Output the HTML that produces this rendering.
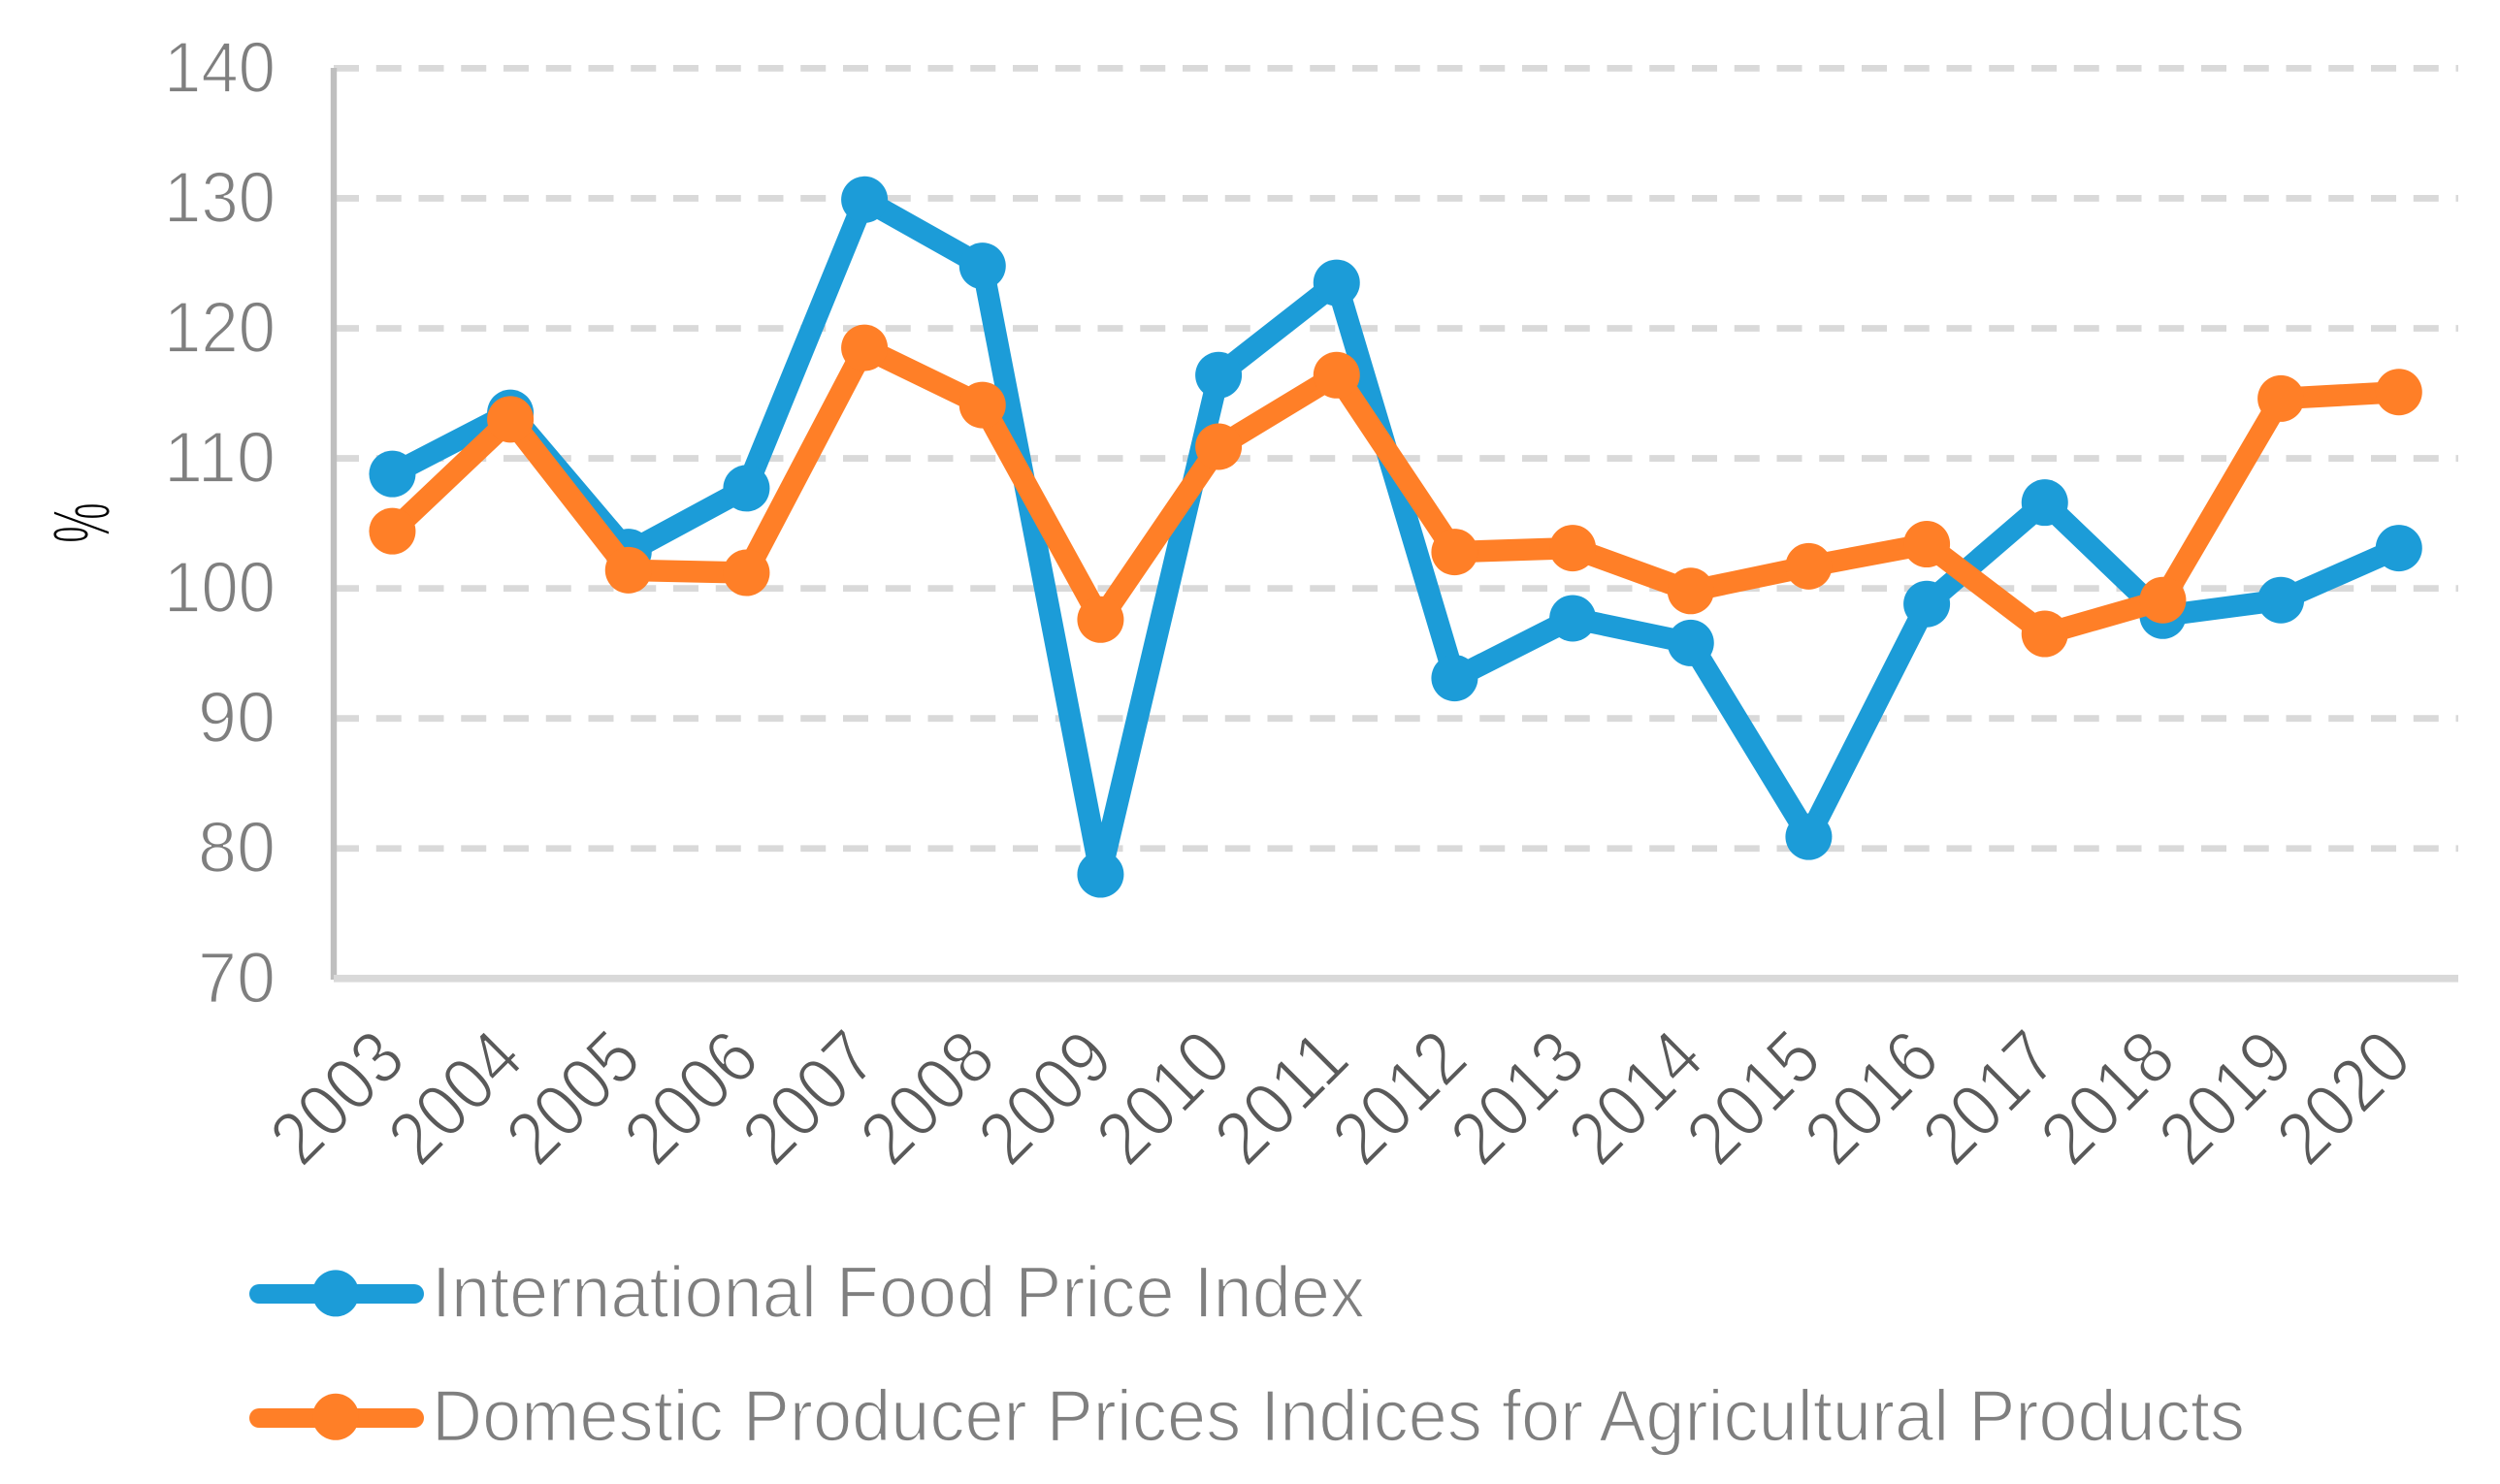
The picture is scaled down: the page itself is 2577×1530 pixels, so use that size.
<!DOCTYPE html>
<html lang="en">
<head>
<meta charset="utf-8">
<title>Food price indices chart</title>
<style>
html,body{margin:0;padding:0;background:#fff;width:2577px;height:1530px;overflow:hidden}
svg{display:block;font-family:"Liberation Sans",sans-serif}
.thin{stroke:#fff;stroke-width:1.8px}
</style>
</head>
<body>
<svg id="chart" width="2577" height="1530" viewBox="0 0 2577 1530" xmlns="http://www.w3.org/2000/svg">
  <rect x="0" y="0" width="2577" height="1530" fill="#fff"/>
  <g id="grid"></g>
  <line x1="344" y1="70" x2="344" y2="1010" stroke="#BFBFBF" stroke-width="6.4"/>
  <line x1="344" y1="1008.8" x2="2534" y2="1008.8" stroke="#D9D9D9" stroke-width="7.7"/>
  <g id="yticks"></g>
  <g id="xticks"></g>
  <text transform="translate(113,560) rotate(-90)" font-size="84" fill="#000" textLength="42" lengthAdjust="spacingAndGlyphs" class="thin">%</text>
  <g id="series"></g>
  <g>
    <line x1="267" y1="1334" x2="427" y2="1334" stroke="#1C9CD8" stroke-width="20" stroke-linecap="round"/>
    <circle cx="346" cy="1333.4" r="24" fill="#1C9CD8"/>
    <text x="445" y="1358" font-size="75" fill="#7F7F7F" textLength="962" lengthAdjust="spacingAndGlyphs" class="thin">International Food Price Index</text>
  </g>
  <g>
    <line x1="267" y1="1462" x2="427" y2="1462" stroke="#FF7F27" stroke-width="20" stroke-linecap="round"/>
    <circle cx="346" cy="1460.8" r="24" fill="#FF7F27"/>
    <text x="445" y="1485.5" font-size="75" fill="#7F7F7F" textLength="1869" lengthAdjust="spacingAndGlyphs" class="thin">Domestic Producer Prices Indices for Agricultural Products</text>
  </g>
</svg>
<script>
const categories = ["2003","2004","2005","2006","2007","2008","2009","2010","2011","2012","2013","2014","2015","2016","2017","2018","2019","2020"];
const foodPriceValues = [108.8,113.5,102.8,107.7,129.9,124.8,78.0,116.4,123.5,93.1,97.7,95.8,80.9,98.8,106.6,97.9,99.1,103.1];
const producerPriceValues = [104.4,113.0,101.4,101.2,118.5,114.1,97.6,110.9,116.4,102.8,103.1,99.8,101.7,103.4,96.5,99.1,114.6,115.1];
const yTickValues = [140,130,120,110,100,90,80,70];

const NS = "http://www.w3.org/2000/svg";
function xScale(i){ return 344 + (2534 - 344) * (i + 0.5) / categories.length - 0.4; }
function yScale(v){ return 70.4 + (140 - v) * (1008.8 - 70.4) / 70; }
function make(tag, attrs, parent){
  const el = document.createElementNS(NS, tag);
  for (const k in attrs) el.setAttribute(k, attrs[k]);
  parent.appendChild(el);
  return el;
}

const grid = document.getElementById("grid");
const yticks = document.getElementById("yticks");
yTickValues.forEach(function(v){
  const y = yScale(v);
  if (v !== 70) {
    const g = make("line", {x1:344, y1:y, x2:2534, y2:y, stroke:"#D9D9D9", "stroke-width":6.8, "stroke-dasharray":"26 17.75"}, grid);
    
    
  }
  const s = String(v);
  const w = s.length === 3 ? 115 : 80;
  const t = make("text", {x:284 - w, y:y + 24.5, "font-size":74, fill:"#7F7F7F", textLength:w, lengthAdjust:"spacingAndGlyphs", class:"thin"}, yticks);
  
  
  t.textContent = s;
});

const xticks = document.getElementById("xticks");
categories.forEach(function(c, i){
  const t = make("text", {transform:"translate(" + (xScale(i) - 93) + ",1205) rotate(-45)", "font-size":78, fill:"#595959", textLength:155, lengthAdjust:"spacingAndGlyphs", class:"thin"}, xticks);
  
  
  t.textContent = c;
});

const seriesLayer = document.getElementById("series");
function drawSeries(values, color, name){
  const g = make("g", {}, seriesLayer);
  
  
  const pts = values.map(function(v, i){ return xScale(i) + "," + yScale(v); }).join(" ");
  const line = make("polyline", {points:pts, fill:"none", stroke:color, "stroke-width":22.5, "stroke-linejoin":"round", "stroke-linecap":"round"}, g);
  
  
  values.forEach(function(v, i){
    const p = make("circle", {cx:xScale(i), cy:yScale(v), r:24, fill:color}, g);
    
    
  });
}
drawSeries(foodPriceValues, "#1C9CD8", "food-price-series");
drawSeries(producerPriceValues, "#FF7F27", "producer-price-series");
</script>
</body>
</html>
